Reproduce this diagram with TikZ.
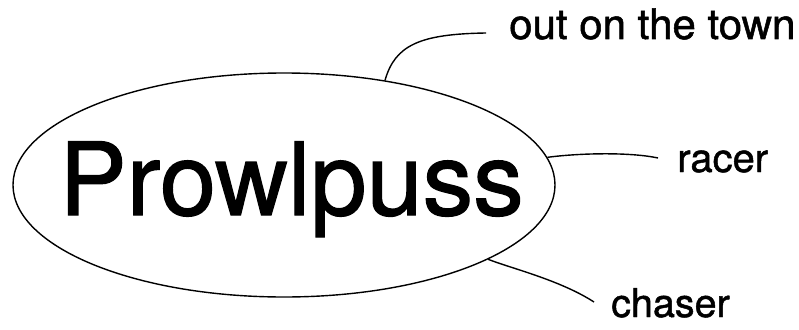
\documentclass[tikz,border=0pt]{standalone}
\usepackage{fontspec}
\setmainfont[FakeBold=1.2]{TeX Gyre Heros}
\usetikzlibrary{shapes.geometric}
\begin{document}
\begin{tikzpicture}[x=1pt,y=1pt,
  lbl/.style={inner sep=0pt, anchor=base west},
  conn/.style={line width=1.4pt}]
\useasboundingbox (0,0) rectangle (799,-329);
\node[draw, line width=1.4pt, ellipse, minimum width=542pt, minimum height=224pt, inner sep=0pt] (oval) at (284,-185) {};
\node[inner sep=0pt, anchor=base, font=\fontsize{101}{101}\selectfont] (title) at (291.5,-215) {Prowlpuss};
\node[lbl, font=\fontsize{42}{42}\selectfont] (out) at (509,-39) {out on the town};
\node[lbl, font=\fontsize{40}{40}\selectfont] (racer) at (677,-172) {racer};
\node[lbl, font=\fontsize{39.5}{39.5}\selectfont] (chaser) at (611,-317) {chaser};
\coordinate (e1) at (486,-33);
\coordinate (e2) at (658,-158);
\coordinate (e3) at (594,-302);
\draw[conn] (oval.46.4) .. controls (395,-45) and (420,-34) .. (e1);
\draw[conn] (oval.6) .. controls (580,-153) and (630,-152) .. (e2);
\draw[conn] (oval.-20.6) .. controls (510,-268) and (560,-280) .. (e3);
\end{tikzpicture}
\end{document}
